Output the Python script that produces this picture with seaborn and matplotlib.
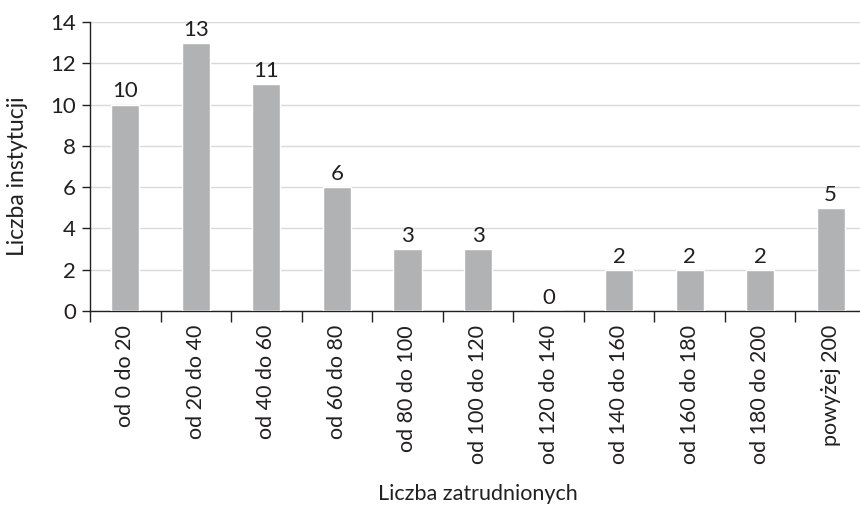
import numpy as np
import pandas as pd
import matplotlib
matplotlib.use("Agg")
import matplotlib.pyplot as plt
import seaborn as sns

categories = ["od 0 do 20", "od 20 do 40", "od 40 do 60", "od 60 do 80",
              "od 80 do 100", "od 100 do 120", "od 120 do 140", "od 140 do 160",
              "od 160 do 180", "od 180 do 200", "powyżej 200"]
counts = [10, 13, 11, 6, 3, 3, 0, 2, 2, 2, 5]
y_ticks = [0, 2, 4, 6, 8, 10, 12, 14]

df = pd.DataFrame({"kategoria": categories, "liczba": counts})

sns.set_theme(style="white")
plt.rcParams["font.family"] = ["Lato", "DejaVu Sans"]
text_color = "#231f20"

fig = plt.figure(figsize=(8.6, 5.07), dpi=100)
ax = fig.add_axes([90 / 860, 196 / 507, 776 / 860, 289 / 507])

sns.barplot(data=df, x="kategoria", y="liczba", color="#b1b2b4",
            saturation=1, width=0.4, ax=ax, zorder=3)

ax.set_ylim(0, 14)
ax.set_xlim(-0.5, len(categories) - 0.5)
ax.set_yticks(y_ticks)
ax.yaxis.grid(True, color="#d9d9d9", linewidth=1, zorder=0)
ax.set_axisbelow(True)

for i, v in enumerate(counts):
    ax.text(i, v + 0.15, str(v), ha="center", va="bottom",
            fontsize=16, color=text_color)

ax.set_xticks(range(len(categories)))
ax.set_xticklabels(categories, rotation=90, fontsize=15.5, color=text_color)
ax.set_xticks(np.arange(-0.5, len(categories), 1), minor=True)
ax.tick_params(axis="x", which="major", length=0, pad=10)
ax.tick_params(axis="x", which="minor", length=8, width=1, color="#231f20",
               direction="out", bottom=True)
ax.tick_params(axis="y", length=6, width=1, color="#231f20", direction="out",
               left=True, labelsize=16, labelcolor=text_color, pad=4)

for s in ["top", "right"]:
    ax.spines[s].set_visible(False)
for s in ["left", "bottom"]:
    ax.spines[s].set_color("#231f20")
    ax.spines[s].set_linewidth(1)

ax.set_xlabel("")
ax.set_ylabel("")
fig.text(18 / 860, 1 - 176 / 507, "Liczba instytucji", ha="center",
         va="center", rotation=90, fontsize=16.5, color=text_color)
fig.text(478 / 860, 1 - 494 / 507, "Liczba zatrudnionych", ha="center",
         va="center", fontsize=15.5, color=text_color)

fig.savefig("out.png", dpi=100)
